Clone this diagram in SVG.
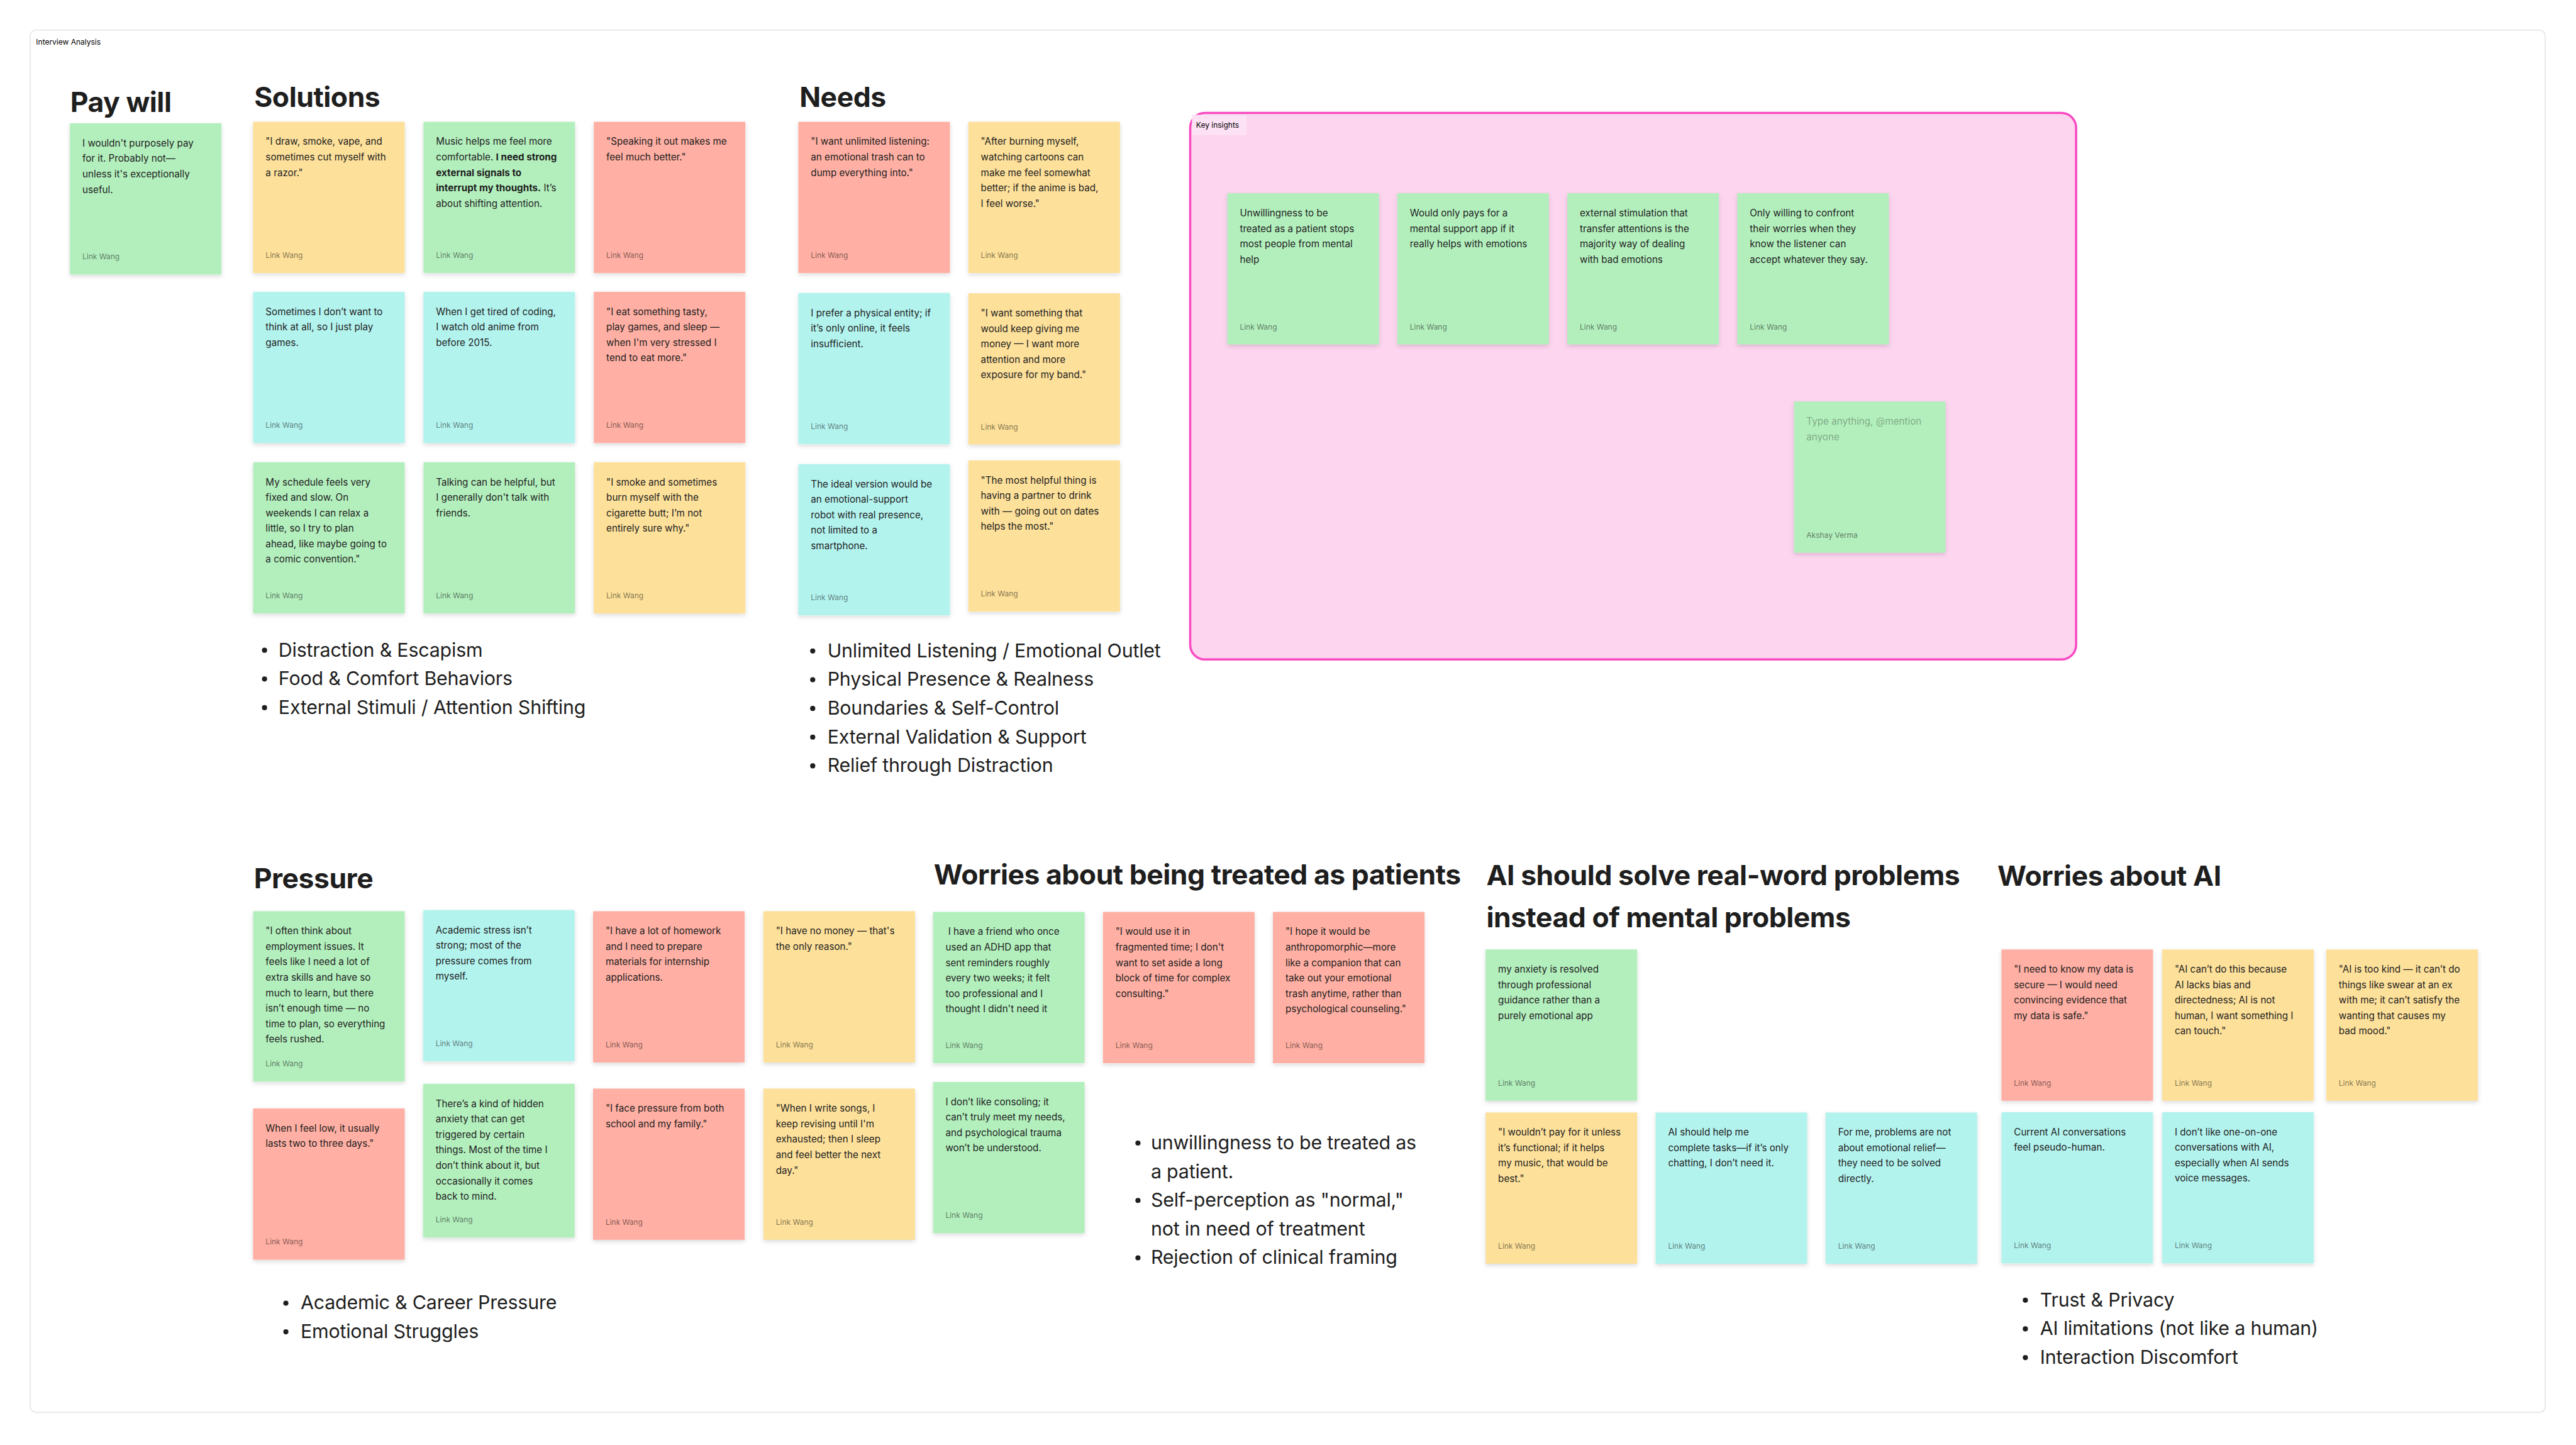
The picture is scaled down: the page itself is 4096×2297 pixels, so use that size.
<svg xmlns="http://www.w3.org/2000/svg" width="4096" height="2297" viewBox="0 0 4096 2297">
<defs>
<style>
text{font-family:Inter,"Liberation Sans",Arial,sans-serif}
.st{filter:url(#sh)}
.g{fill:#B3EFBD}.y{fill:#FDE09A}.r{fill:#FFAFA3}.tl{fill:#B3F3EE}
.t{font-size:26px;fill:#1E1E1E}
.b{font-weight:700}
.a{font-size:20.5px;fill:#000;fill-opacity:.5}
.ph{font-size:26px;fill:#000;fill-opacity:.33}
.h{font-size:76px;font-weight:700;fill:#1E1E1E;letter-spacing:-0.8px}
.bl{font-size:52px;fill:#1E1E1E;letter-spacing:-0.35px}
.dot{fill:#1E1E1E}
.sm{font-size:20.5px;fill:#000}
</style>
<filter id="sh" x="-10%" y="-10%" width="120%" height="125%">
<feDropShadow dx="0" dy="5" stdDeviation="6" flood-color="#000" flood-opacity="0.14"/>
</filter>
</defs>
<rect width="4096" height="2297" fill="#FFFFFF"/>
<g transform="scale(0.585)">
<g id="frame">
<rect x="82" y="82" width="6836" height="3756" rx="16" fill="#FFFFFF" stroke="#E6E6E6" stroke-width="3"/>
<text class="sm" x="98" y="122">Interview Analysis</text>
</g>

<g id="key-insights-section">
<rect x="3235" y="307" width="2408" height="1485" rx="40" fill="#FDD5EF" stroke="#F849C1" stroke-width="6"/>
<rect x="3240" y="312" width="148" height="55" fill="#FDE1F4"/>
<text class="sm" x="3251" y="347">Key insights</text>
</g>

<g id="headings">
<text class="h" x="191" y="305">Pay will</text>
<text class="h" x="691" y="290">Solutions</text>
<text class="h" x="2173" y="290">Needs</text>
<text class="h" x="690" y="2414">Pressure</text>
<text class="h" x="2538" y="2404">Worries about being treated as patients</text>
<text class="h" x="4040" y="2405">AI should solve real-word problems</text>
<text class="h" x="4040" y="2519">instead of mental problems</text>
<text class="h" x="5429" y="2407">Worries about AI</text>
</g>

<g id="pay-1"><rect class="st g" x="190" y="335" width="412" height="411"/><text class="t" x="224" y="398"><tspan x="224">I wouldn't purposely pay</tspan><tspan x="224" dy="42">for it. Probably not—</tspan><tspan x="224" dy="42">unless it's exceptionally</tspan><tspan x="224" dy="42">useful.</tspan></text><text class="a" x="224" y="705">Link Wang</text></g>

<g id="sol-1"><rect class="st y" x="688" y="331" width="412" height="411"/><text class="t" x="722" y="394"><tspan x="722">"I draw, smoke, vape, and</tspan><tspan x="722" dy="42">sometimes cut myself with</tspan><tspan x="722" dy="42">a razor."</tspan></text><text class="a" x="722" y="701">Link Wang</text></g>
<g id="sol-2"><rect class="st g" x="1151" y="331" width="412" height="411"/><text class="t" x="1185" y="394"><tspan x="1185">Music helps me feel more</tspan><tspan x="1185" dy="42">comfortable. <tspan class="b">I need strong</tspan></tspan><tspan x="1185" dy="42" class="b">external signals to</tspan><tspan x="1185" dy="42"><tspan class="b">interrupt my thoughts.</tspan> It’s</tspan><tspan x="1185" dy="42">about shifting attention.</tspan></text><text class="a" x="1185" y="701">Link Wang</text></g>
<g id="sol-3"><rect class="st r" x="1614" y="331" width="412" height="411"/><text class="t" x="1648" y="394"><tspan x="1648">"Speaking it out makes me</tspan><tspan x="1648" dy="42">feel much better."</tspan></text><text class="a" x="1648" y="701">Link Wang</text></g>
<g id="sol-4"><rect class="st tl" x="688" y="793" width="412" height="411"/><text class="t" x="722" y="856"><tspan x="722">Sometimes I don’t want to</tspan><tspan x="722" dy="42">think at all, so I just play</tspan><tspan x="722" dy="42">games.</tspan></text><text class="a" x="722" y="1163">Link Wang</text></g>
<g id="sol-5"><rect class="st tl" x="1151" y="793" width="412" height="411"/><text class="t" x="1185" y="856"><tspan x="1185">When I get tired of coding,</tspan><tspan x="1185" dy="42">I watch old anime from</tspan><tspan x="1185" dy="42">before 2015.</tspan></text><text class="a" x="1185" y="1163">Link Wang</text></g>
<g id="sol-6"><rect class="st r" x="1614" y="793" width="412" height="411"/><text class="t" x="1648" y="856"><tspan x="1648">"I eat something tasty,</tspan><tspan x="1648" dy="42">play games, and sleep —</tspan><tspan x="1648" dy="42">when I'm very stressed I</tspan><tspan x="1648" dy="42">tend to eat more."</tspan></text><text class="a" x="1648" y="1163">Link Wang</text></g>
<g id="sol-7"><rect class="st g" x="688" y="1256" width="412" height="411"/><text class="t" x="722" y="1319"><tspan x="722">My schedule feels very</tspan><tspan x="722" dy="42">fixed and slow. On</tspan><tspan x="722" dy="42">weekends I can relax a</tspan><tspan x="722" dy="42">little, so I try to plan</tspan><tspan x="722" dy="42">ahead, like maybe going to</tspan><tspan x="722" dy="42">a comic convention."</tspan></text><text class="a" x="722" y="1626">Link Wang</text></g>
<g id="sol-8"><rect class="st g" x="1151" y="1256" width="412" height="411"/><text class="t" x="1185" y="1319"><tspan x="1185">Talking can be helpful, but</tspan><tspan x="1185" dy="42">I generally don't talk with</tspan><tspan x="1185" dy="42">friends.</tspan></text><text class="a" x="1185" y="1626">Link Wang</text></g>
<g id="sol-9"><rect class="st y" x="1614" y="1256" width="412" height="411"/><text class="t" x="1648" y="1319"><tspan x="1648">"I smoke and sometimes</tspan><tspan x="1648" dy="42">burn myself with the</tspan><tspan x="1648" dy="42">cigarette butt; I’m not</tspan><tspan x="1648" dy="42">entirely sure why."</tspan></text><text class="a" x="1648" y="1626">Link Wang</text></g>

<g id="sol-bullets">
<circle class="dot" cx="719" cy="1767" r="7"/><text class="bl" x="757" y="1784">Distraction &amp; Escapism</text>
<circle class="dot" cx="719" cy="1845" r="7"/><text class="bl" x="757" y="1862">Food &amp; Comfort Behaviors</text>
<circle class="dot" cx="719" cy="1923" r="7"/><text class="bl" x="757" y="1940">External Stimuli / Attention Shifting</text>
</g>

<g id="need-1"><rect class="st r" x="2170" y="331" width="412" height="411"/><text class="t" x="2204" y="394"><tspan x="2204">"I want unlimited listening:</tspan><tspan x="2204" dy="42">an emotional trash can to</tspan><tspan x="2204" dy="42">dump everything into."</tspan></text><text class="a" x="2204" y="701">Link Wang</text></g>
<g id="need-2"><rect class="st y" x="2632" y="331" width="412" height="411"/><text class="t" x="2666" y="394"><tspan x="2666">"After burning myself,</tspan><tspan x="2666" dy="42">watching cartoons can</tspan><tspan x="2666" dy="42">make me feel somewhat</tspan><tspan x="2666" dy="42">better; if the anime is bad,</tspan><tspan x="2666" dy="42">I feel worse."</tspan></text><text class="a" x="2666" y="701">Link Wang</text></g>
<g id="need-3"><rect class="st tl" x="2170" y="796" width="412" height="411"/><text class="t" x="2204" y="859"><tspan x="2204">I prefer a physical entity; if</tspan><tspan x="2204" dy="42">it’s only online, it feels</tspan><tspan x="2204" dy="42">insufficient.</tspan></text><text class="a" x="2204" y="1166">Link Wang</text></g>
<g id="need-4"><rect class="st y" x="2632" y="797" width="412" height="411"/><text class="t" x="2666" y="860"><tspan x="2666">"I want something that</tspan><tspan x="2666" dy="42">would keep giving me</tspan><tspan x="2666" dy="42">money — I want more</tspan><tspan x="2666" dy="42">attention and more</tspan><tspan x="2666" dy="42">exposure for my band."</tspan></text><text class="a" x="2666" y="1167">Link Wang</text></g>
<g id="need-5"><rect class="st tl" x="2170" y="1261" width="412" height="411"/><text class="t" x="2204" y="1324"><tspan x="2204">The ideal version would be</tspan><tspan x="2204" dy="42">an emotional-support</tspan><tspan x="2204" dy="42">robot with real presence,</tspan><tspan x="2204" dy="42">not limited to a</tspan><tspan x="2204" dy="42">smartphone.</tspan></text><text class="a" x="2204" y="1631">Link Wang</text></g>
<g id="need-6"><rect class="st y" x="2632" y="1251" width="412" height="411"/><text class="t" x="2666" y="1314"><tspan x="2666">"The most helpful thing is</tspan><tspan x="2666" dy="42">having a partner to drink</tspan><tspan x="2666" dy="42">with — going out on dates</tspan><tspan x="2666" dy="42">helps the most."</tspan></text><text class="a" x="2666" y="1621">Link Wang</text></g>

<g id="need-bullets">
<circle class="dot" cx="2209" cy="1769" r="7"/><text class="bl" x="2249" y="1786">Unlimited Listening / Emotional Outlet</text>
<circle class="dot" cx="2209" cy="1847" r="7"/><text class="bl" x="2249" y="1864">Physical Presence &amp; Realness</text>
<circle class="dot" cx="2209" cy="1925" r="7"/><text class="bl" x="2249" y="1942">Boundaries &amp; Self-Control</text>
<circle class="dot" cx="2209" cy="2003" r="7"/><text class="bl" x="2249" y="2020">External Validation &amp; Support</text>
<circle class="dot" cx="2209" cy="2081" r="7"/><text class="bl" x="2249" y="2098">Relief through Distraction</text>
</g>

<g id="key-1"><rect class="st g" x="3336" y="525" width="412" height="411"/><text class="t" x="3370" y="588"><tspan x="3370">Unwillingness to be</tspan><tspan x="3370" dy="42">treated as a patient stops</tspan><tspan x="3370" dy="42">most people from mental</tspan><tspan x="3370" dy="42">help</tspan></text><text class="a" x="3370" y="895">Link Wang</text></g>
<g id="key-2"><rect class="st g" x="3798" y="525" width="412" height="411"/><text class="t" x="3832" y="588"><tspan x="3832">Would only pays for a</tspan><tspan x="3832" dy="42">mental support app if it</tspan><tspan x="3832" dy="42">really helps with emotions</tspan></text><text class="a" x="3832" y="895">Link Wang</text></g>
<g id="key-3"><rect class="st g" x="4260" y="525" width="412" height="411"/><text class="t" x="4294" y="588"><tspan x="4294">external stimulation that</tspan><tspan x="4294" dy="42">transfer attentions is the</tspan><tspan x="4294" dy="42">majority way of dealing</tspan><tspan x="4294" dy="42">with bad emotions</tspan></text><text class="a" x="4294" y="895">Link Wang</text></g>
<g id="key-4"><rect class="st g" x="4722" y="525" width="412" height="411"/><text class="t" x="4756" y="588"><tspan x="4756">Only willing to confront</tspan><tspan x="4756" dy="42">their worries when they</tspan><tspan x="4756" dy="42">know the listener can</tspan><tspan x="4756" dy="42">accept whatever they say.</tspan></text><text class="a" x="4756" y="895">Link Wang</text></g>
<g id="key-5"><rect class="st g" x="4876" y="1091" width="412" height="411"/><text class="ph" x="4910" y="1154"><tspan x="4910">Type anything, @mention</tspan><tspan x="4910" dy="42">anyone</tspan></text><text class="a" x="4910" y="1461">Akshay Verma</text></g>

<g id="pres-1"><rect class="st g" x="688" y="2476" width="412" height="463"/><text class="t" x="722" y="2539"><tspan x="722">"I often think about</tspan><tspan x="722" dy="42">employment issues. It</tspan><tspan x="722" dy="42">feels like I need a lot of</tspan><tspan x="722" dy="42">extra skills and have so</tspan><tspan x="722" dy="42">much to learn, but there</tspan><tspan x="722" dy="42">isn’t enough time — no</tspan><tspan x="722" dy="42">time to plan, so everything</tspan><tspan x="722" dy="42">feels rushed.</tspan></text><text class="a" x="722" y="2898">Link Wang</text></g>
<g id="pres-2"><rect class="st tl" x="1150" y="2473" width="412" height="411"/><text class="t" x="1184" y="2536"><tspan x="1184">Academic stress isn’t</tspan><tspan x="1184" dy="42">strong; most of the</tspan><tspan x="1184" dy="42">pressure comes from</tspan><tspan x="1184" dy="42">myself.</tspan></text><text class="a" x="1184" y="2843">Link Wang</text></g>
<g id="pres-3"><rect class="st r" x="1612" y="2476" width="412" height="411"/><text class="t" x="1646" y="2539"><tspan x="1646">"I have a lot of homework</tspan><tspan x="1646" dy="42">and I need to prepare</tspan><tspan x="1646" dy="42">materials for internship</tspan><tspan x="1646" dy="42">applications.</tspan></text><text class="a" x="1646" y="2846">Link Wang</text></g>
<g id="pres-4"><rect class="st y" x="2075" y="2476" width="412" height="411"/><text class="t" x="2109" y="2539"><tspan x="2109">"I have no money — that's</tspan><tspan x="2109" dy="42">the only reason."</tspan></text><text class="a" x="2109" y="2846">Link Wang</text></g>
<g id="pres-5"><rect class="st r" x="688" y="3012" width="412" height="411"/><text class="t" x="722" y="3075"><tspan x="722">When I feel low, it usually</tspan><tspan x="722" dy="42">lasts two to three days."</tspan></text><text class="a" x="722" y="3382">Link Wang</text></g>
<g id="pres-6"><rect class="st g" x="1150" y="2945" width="412" height="418"/><text class="t" x="1184" y="3008"><tspan x="1184">There’s a kind of hidden</tspan><tspan x="1184" dy="42">anxiety that can get</tspan><tspan x="1184" dy="42">triggered by certain</tspan><tspan x="1184" dy="42">things. Most of the time I</tspan><tspan x="1184" dy="42">don’t think about it, but</tspan><tspan x="1184" dy="42">occasionally it comes</tspan><tspan x="1184" dy="42">back to mind.</tspan></text><text class="a" x="1184" y="3322">Link Wang</text></g>
<g id="pres-7"><rect class="st r" x="1612" y="2958" width="412" height="411"/><text class="t" x="1646" y="3021"><tspan x="1646">"I face pressure from both</tspan><tspan x="1646" dy="42">school and my family."</tspan></text><text class="a" x="1646" y="3328">Link Wang</text></g>
<g id="pres-8"><rect class="st y" x="2075" y="2958" width="412" height="411"/><text class="t" x="2109" y="3021"><tspan x="2109">"When I write songs, I</tspan><tspan x="2109" dy="42">keep revising until I'm</tspan><tspan x="2109" dy="42">exhausted; then I sleep</tspan><tspan x="2109" dy="42">and feel better the next</tspan><tspan x="2109" dy="42">day."</tspan></text><text class="a" x="2109" y="3328">Link Wang</text></g>

<g id="pres-bullets">
<circle class="dot" cx="777" cy="3541" r="7"/><text class="bl" x="817" y="3558">Academic &amp; Career Pressure</text>
<circle class="dot" cx="777" cy="3619" r="7"/><text class="bl" x="817" y="3636">Emotional Struggles</text>
</g>

<g id="pat-1"><rect class="st g" x="2536" y="2478" width="412" height="411"/><text class="t" x="2570" y="2541" xml:space="preserve"><tspan x="2570"> I have a friend who once</tspan><tspan x="2570" dy="42">used an ADHD app that</tspan><tspan x="2570" dy="42">sent reminders roughly</tspan><tspan x="2570" dy="42">every two weeks; it felt</tspan><tspan x="2570" dy="42">too professional and I</tspan><tspan x="2570" dy="42">thought I didn't need it</tspan></text><text class="a" x="2570" y="2848">Link Wang</text></g>
<g id="pat-2"><rect class="st r" x="2998" y="2478" width="412" height="411"/><text class="t" x="3032" y="2541"><tspan x="3032">"I would use it in</tspan><tspan x="3032" dy="42">fragmented time; I don't</tspan><tspan x="3032" dy="42">want to set aside a long</tspan><tspan x="3032" dy="42">block of time for complex</tspan><tspan x="3032" dy="42">consulting."</tspan></text><text class="a" x="3032" y="2848">Link Wang</text></g>
<g id="pat-3"><rect class="st r" x="3460" y="2478" width="412" height="411"/><text class="t" x="3494" y="2541"><tspan x="3494">"I hope it would be</tspan><tspan x="3494" dy="42">anthropomorphic—more</tspan><tspan x="3494" dy="42">like a companion that can</tspan><tspan x="3494" dy="42">take out your emotional</tspan><tspan x="3494" dy="42">trash anytime, rather than</tspan><tspan x="3494" dy="42">psychological counseling."</tspan></text><text class="a" x="3494" y="2848">Link Wang</text></g>
<g id="pat-4"><rect class="st g" x="2536" y="2940" width="412" height="411"/><text class="t" x="2570" y="3003"><tspan x="2570">I don’t like consoling; it</tspan><tspan x="2570" dy="42">can’t truly meet my needs,</tspan><tspan x="2570" dy="42">and psychological trauma</tspan><tspan x="2570" dy="42">won’t be understood.</tspan></text><text class="a" x="2570" y="3310">Link Wang</text></g>

<g id="pat-bullets">
<circle class="dot" cx="3093" cy="3106" r="7"/><text class="bl" x="3128" y="3123">unwillingness to be treated as</text>
<text class="bl" x="3128" y="3201">a patient.</text>
<circle class="dot" cx="3093" cy="3262" r="7"/><text class="bl" x="3128" y="3279">Self-perception as "normal,"</text>
<text class="bl" x="3128" y="3357">not in need of treatment</text>
<circle class="dot" cx="3093" cy="3418" r="7"/><text class="bl" x="3128" y="3435">Rejection of clinical framing</text>
</g>

<g id="ai-1"><rect class="st g" x="4038" y="2580" width="412" height="411"/><text class="t" x="4072" y="2643"><tspan x="4072">my anxiety is resolved</tspan><tspan x="4072" dy="42">through professional</tspan><tspan x="4072" dy="42">guidance rather than a</tspan><tspan x="4072" dy="42">purely emotional app</tspan></text><text class="a" x="4072" y="2950">Link Wang</text></g>
<g id="ai-2"><rect class="st y" x="4038" y="3023" width="412" height="411"/><text class="t" x="4072" y="3086"><tspan x="4072">"I wouldn’t pay for it unless</tspan><tspan x="4072" dy="42">it’s functional; if it helps</tspan><tspan x="4072" dy="42">my music, that would be</tspan><tspan x="4072" dy="42">best."</tspan></text><text class="a" x="4072" y="3393">Link Wang</text></g>
<g id="ai-3"><rect class="st tl" x="4500" y="3023" width="412" height="411"/><text class="t" x="4534" y="3086"><tspan x="4534">AI should help me</tspan><tspan x="4534" dy="42">complete tasks—if it’s only</tspan><tspan x="4534" dy="42">chatting, I don’t need it.</tspan></text><text class="a" x="4534" y="3393">Link Wang</text></g>
<g id="ai-4"><rect class="st tl" x="4962" y="3023" width="412" height="411"/><text class="t" x="4996" y="3086"><tspan x="4996">For me, problems are not</tspan><tspan x="4996" dy="42">about emotional relief—</tspan><tspan x="4996" dy="42">they need to be solved</tspan><tspan x="4996" dy="42">directly.</tspan></text><text class="a" x="4996" y="3393">Link Wang</text></g>

<g id="wai-1"><rect class="st r" x="5440" y="2580" width="412" height="411"/><text class="t" x="5474" y="2643"><tspan x="5474">"I need to know my data is</tspan><tspan x="5474" dy="42">secure — I would need</tspan><tspan x="5474" dy="42">convincing evidence that</tspan><tspan x="5474" dy="42">my data is safe."</tspan></text><text class="a" x="5474" y="2950">Link Wang</text></g>
<g id="wai-2"><rect class="st y" x="5877" y="2580" width="412" height="411"/><text class="t" x="5911" y="2643"><tspan x="5911">"AI can’t do this because</tspan><tspan x="5911" dy="42">AI lacks bias and</tspan><tspan x="5911" dy="42">directedness; AI is not</tspan><tspan x="5911" dy="42">human, I want something I</tspan><tspan x="5911" dy="42">can touch."</tspan></text><text class="a" x="5911" y="2950">Link Wang</text></g>
<g id="wai-3"><rect class="st y" x="6323" y="2580" width="412" height="411"/><text class="t" x="6357" y="2643"><tspan x="6357">"AI is too kind — it can’t do</tspan><tspan x="6357" dy="42">things like swear at an ex</tspan><tspan x="6357" dy="42">with me; it can’t satisfy the</tspan><tspan x="6357" dy="42">wanting that causes my</tspan><tspan x="6357" dy="42">bad mood."</tspan></text><text class="a" x="6357" y="2950">Link Wang</text></g>
<g id="wai-4"><rect class="st tl" x="5440" y="3022" width="412" height="411"/><text class="t" x="5474" y="3085"><tspan x="5474">Current AI conversations</tspan><tspan x="5474" dy="42">feel pseudo-human.</tspan></text><text class="a" x="5474" y="3392">Link Wang</text></g>
<g id="wai-5"><rect class="st tl" x="5877" y="3022" width="412" height="411"/><text class="t" x="5911" y="3085"><tspan x="5911">I don’t like one-on-one</tspan><tspan x="5911" dy="42">conversations with AI,</tspan><tspan x="5911" dy="42">especially when AI sends</tspan><tspan x="5911" dy="42">voice messages.</tspan></text><text class="a" x="5911" y="3392">Link Wang</text></g>

<g id="wai-bullets">
<circle class="dot" cx="5505" cy="3533" r="7"/><text class="bl" x="5545" y="3550">Trust &amp; Privacy</text>
<circle class="dot" cx="5505" cy="3611" r="7"/><text class="bl" x="5545" y="3628">AI limitations (not like a human)</text>
<circle class="dot" cx="5505" cy="3689" r="7"/><text class="bl" x="5545" y="3706">Interaction Discomfort</text>
</g>

<g id="connectors"></g>
</g>
</svg>
